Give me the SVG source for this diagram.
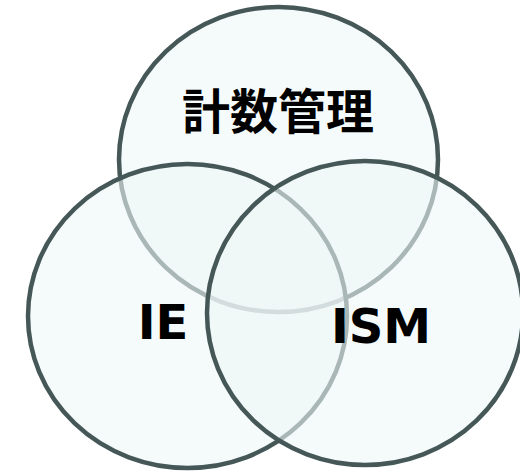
<svg xmlns="http://www.w3.org/2000/svg" width="520" height="473" viewBox="0 0 520 473">
<style>
.c{fill:#eef7f7;fill-opacity:0.6;stroke:#455757;stroke-width:4.5}
.t{font-family:"DejaVu Sans","Noto Sans CJK JP",sans-serif;font-weight:bold;fill:#000;text-anchor:middle}
.j{font-family:"Noto Sans CJK JP",sans-serif;font-weight:bold;fill:#000;text-anchor:middle}
</style>
<rect width="520" height="473" fill="#ffffff"/>
<g id="top"><ellipse class="c" cx="278.5" cy="159.5" rx="159.5" ry="152.5"/></g>
<g id="left"><ellipse class="c" cx="187.5" cy="316" rx="159.5" ry="152"/></g>
<g id="right"><ellipse class="c" cx="365" cy="313" rx="158" ry="152"/></g>
<g id="labels">
<text class="j" x="278" y="129" font-size="48">計数管理</text>
<text class="t" x="163" y="339" font-size="48">IE</text>
<text class="t" x="381" y="343" font-size="48">ISM</text>
</g>
</svg>
